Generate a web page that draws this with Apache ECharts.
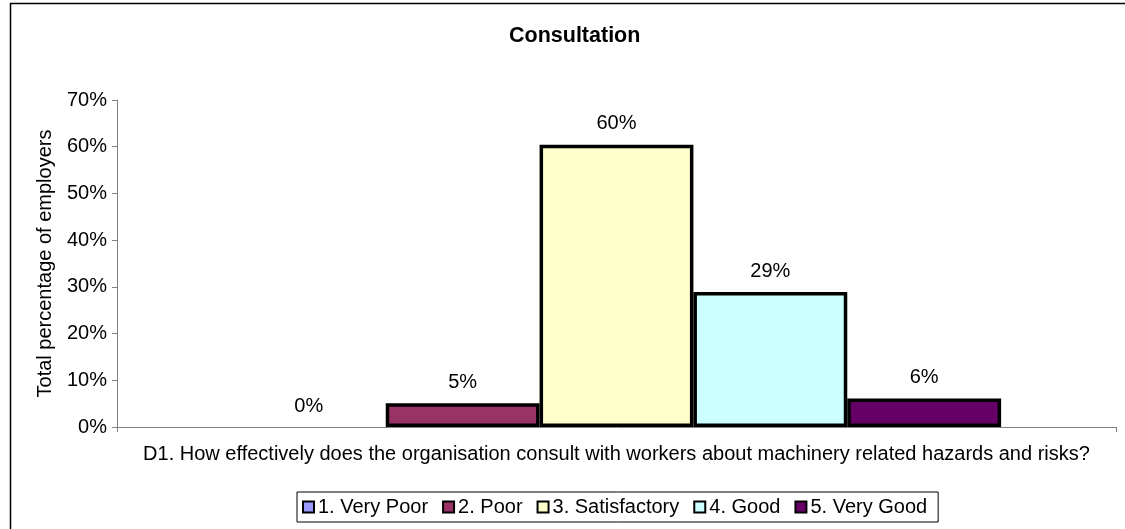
<!DOCTYPE html>
<html>
<head>
<meta charset="utf-8">
<script src="https://cdn.jsdelivr.net/npm/echarts@6/dist/echarts.min.js"></script>
<style>
    html, body { margin: 0; padding: 0; background: #fff; }
    #Echarts { width: 1125px; height: 529px; }
</style>
</head>
<body>
<div id="Echarts"></div>
<script>
// chart data
var chartTitle = "Consultation";
var yAxisName = "Total percentage of employers";
var categories = ["D1. How effectively does the organisation consult with workers about machinery related hazards and risks?"];
var seriesNames = ["1. Very Poor", "2. Poor", "3. Satisfactory", "4. Good", "5. Very Good"];
var seriesValues = [0, 5.1, 60.4, 28.9, 6.1];
var seriesColors = ["#9999FF", "#993366", "#FFFFCC", "#CCFFFF", "#660066"];
var yTicks = { min: 0, max: 70, interval: 10 };

var chartDom = document.getElementById("Echarts");
var myChart = echarts.init(chartDom, null, { width: 1125, height: 529 });

var font = "Liberation Sans, Arial, sans-serif";

var series = seriesNames.map(function (name, i) {
    return {
        name: name,
        type: "bar",
        barGap: "0%",
        barCategoryGap: "23%",
        itemStyle: {
            color: seriesColors[i],
            borderColor: "#000",
            borderWidth: 3.5
        },
        label: {
            show: true,
            position: "top",
            distance: 11,
            color: "#000",
            fontFamily: font,
            fontSize: 20,
            formatter: function (p) { return Math.round(p.value) + "%"; }
        },
        data: [{
            value: seriesValues[i],
            // 0 值的柱子不畫邊框
            itemStyle: seriesValues[i] === 0 ? { borderWidth: 0 } : {}
        }]
    };
});

var option = {
    animation: false,
    backgroundColor: "#fff",
    title: {
        text: chartTitle,
        left: 504,
        top: 20,
        textStyle: { fontFamily: font, fontSize: 21.5, fontWeight: "bold", color: "#000" }
    },
    grid: { left: 117, right: 9, top: 100, bottom: 102 },
    xAxis: {
        type: "category",
        data: categories,
        axisLine: { lineStyle: { color: "#808080", width: 1 } },
        axisTick: { show: true, length: 5, lineStyle: { color: "#808080" } },
        axisLabel: { color: "#000", fontFamily: font, fontSize: 20, margin: 17 }
    },
    yAxis: {
        type: "value",
        min: yTicks.min,
        max: yTicks.max,
        interval: yTicks.interval,
        name: yAxisName,
        nameLocation: "middle",
        nameGap: 62,
        nameTextStyle: { color: "#000", fontFamily: font, fontSize: 20 },
        splitLine: { show: false },
        axisLine: { show: true, lineStyle: { color: "#808080", width: 1 } },
        axisTick: { show: true, length: 5, lineStyle: { color: "#808080" } },
        axisLabel: {
            color: "#000", fontFamily: font, fontSize: 20, margin: 10,
            formatter: function (v) { return v + "%"; }
        }
    },
    legend: {
        data: seriesNames,
        left: 297,
        top: 492,
        orient: "horizontal",
        icon: "rect",
        itemWidth: 11,
        itemHeight: 11,
        itemGap: 14,
        padding: [5, 11, 5, 5],
        borderColor: "#000",
        borderWidth: 1,
        itemStyle: { borderColor: "#000", borderWidth: 2 },
        textStyle: { color: "#000", fontFamily: font, fontSize: 20, padding: [0, 0, 0, -1] }
    },
    graphic: [{
        type: "rect",
        left: 8,
        top: 1,
        shape: { width: 1130, height: 540 },
        style: { fill: "none", stroke: "#000", lineWidth: 1.5 },
        silent: true,
        z: 100
    }],
    series: series
};

myChart.setOption(option);
</script>
</body>
</html>
